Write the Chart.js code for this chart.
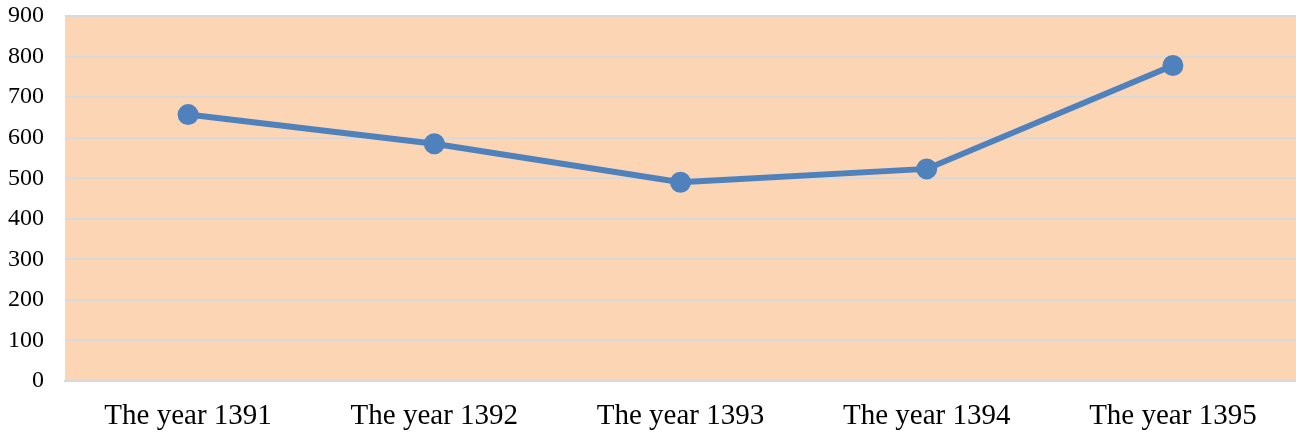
<!DOCTYPE html>
<html>
<head>
<meta charset="utf-8">
<script src="https://cdn.jsdelivr.net/npm/chart.js@4"></script>
<style>
  html, body { margin: 0; padding: 0; background: #ffffff; }
  #wrap { position: relative; width: 1296px; height: 435px; }
</style>
</head>
<body>
<div id="wrap"><canvas id="grafico"></canvas></div>
<script>
const years = ["The year 1391", "The year 1392", "The year 1393", "The year 1394", "The year 1395"];
const values = [657, 585, 490, 523, 778];
const yTicks = [0, 100, 200, 300, 400, 500, 600, 700, 800, 900];

// fondo del area del grafico
const plotBg = {
  id: "plotBg",
  beforeDraw(chart) {
    const { ctx, chartArea: a } = chart;
    ctx.save();
    ctx.fillStyle = "#fcd5b4";
    ctx.fillRect(a.left, a.top, a.right - a.left, a.bottom - a.top);
    ctx.restore();
  }
};

new Chart(document.getElementById("grafico"), {
  type: "line",
  data: {
    labels: years,
    datasets: [{
      data: values,
      borderColor: "#4f81bd",
      backgroundColor: "#4f81bd",
      borderWidth: 6,
      pointRadius: 7.5,
      pointHoverRadius: 7.5,
      tension: 0,
      fill: false
    }]
  },
  options: {
    responsive: true,
    maintainAspectRatio: false,
    animation: false,
    layout: { autoPadding: false, padding: { top: 16, right: 0, bottom: 0, left: 2 } },
    plugins: {
      legend: { display: false },
      tooltip: { enabled: false }
    },
    scales: {
      x: {
        offset: true,
        grid: { display: false, drawTicks: false },
        border: { display: true, color: "#d9d9d9", width: 2 },
        afterFit(axis) {
          axis.height = 54;
          axis.paddingLeft = 0;
          axis.paddingRight = 0;
        },
        ticks: {
          color: "#000000",
          padding: 18,
          maxRotation: 0,
          font: { family: "'Liberation Serif', 'Times New Roman', serif", size: 29 }
        }
      },
      y: {
        min: 0,
        max: 900,
        afterBuildTicks(axis) { axis.ticks = yTicks.map(v => ({ value: v })); },
        afterFit(axis) {
          axis.width = 63;
          axis.paddingTop = 0;
          axis.paddingBottom = 0;
        },
        grid: { color: "#d9d9d9", lineWidth: 2, drawTicks: false },
        border: { display: false },
        ticks: {
          color: "#000000",
          padding: 21,
          font: { family: "'Liberation Serif', 'Times New Roman', serif", size: 24 }
        }
      }
    }
  },
  plugins: [plotBg]
});
</script>
</body>
</html>
